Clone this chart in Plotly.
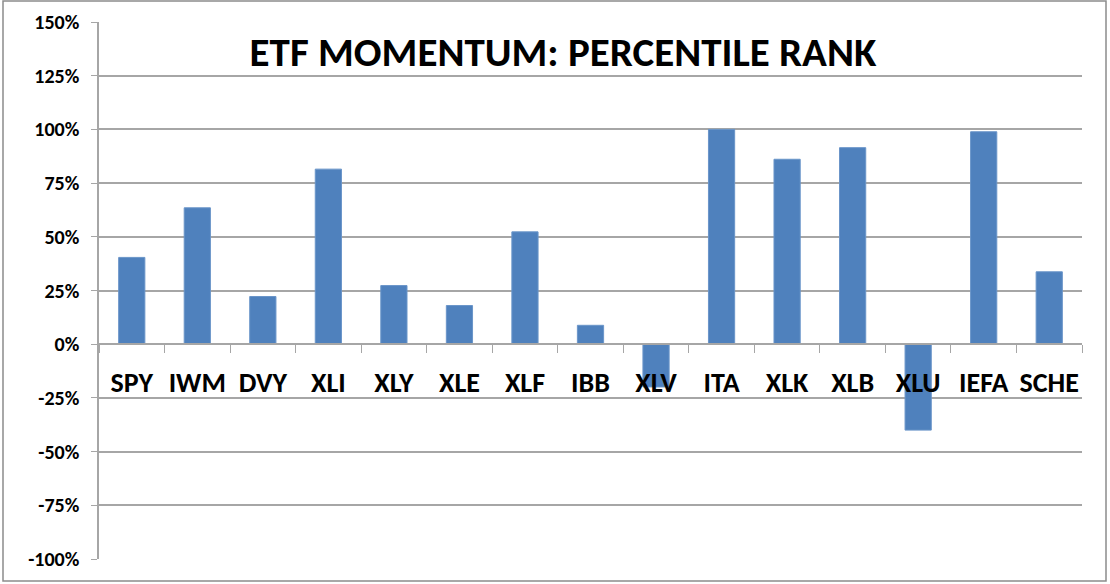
import plotly.graph_objects as go

tickers = ['SPY', 'IWM', 'DVY', 'XLI', 'XLY', 'XLE', 'XLF', 'IBB', 'XLV',
           'ITA', 'XLK', 'XLB', 'XLU', 'IEFA', 'SCHE']
pct_rank = [0.404, 0.635, 0.222, 0.815, 0.273, 0.180, 0.523, 0.088, -0.199,
            1.000, 0.861, 0.915, -0.400, 0.989, 0.337]
y_ticks = [-1.0, -0.75, -0.5, -0.25, 0.0, 0.25, 0.5, 0.75, 1.0, 1.25, 1.5]
y_labels = ['-100%', '-75%', '-50%', '-25%', '0%', '25%', '50%', '75%',
            '100%', '125%', '150%']

FONT = "Carlito, 'Liberation Sans Narrow', 'DejaVu Sans Condensed', sans-serif"
GRID = '#a6a6a6'

# plot area in pixels: left 99, right 1082, top 22, bottom 559; zero line at 344
zero_pos = (559 - 344) / 537

fig = go.Figure()
fig.add_trace(go.Bar(
    x=tickers, y=pct_rank,
    marker=dict(color='#4f81bd', line=dict(color='#6a95c9', width=1)),
    width=0.4,
))

fig.update_layout(
    width=1110, height=584,
    margin=dict(l=99, r=28, t=22, b=25, autoexpand=False),
    paper_bgcolor='white', plot_bgcolor='white',
    showlegend=False,
    title=dict(
        text='<b>ETF MOMENTUM: PERCENTILE RANK</b>',
        x=563 / 1110, xanchor='center', y=1 - 52 / 584, yanchor='middle',
        font=dict(family=FONT, size=41, color='black'),
    ),
    xaxis=dict(
        type='category',
        anchor='free', position=zero_pos,
        automargin=False, tickangle=0,
        showline=True, linecolor=GRID, linewidth=1.5,
        ticks='outside', tickson='boundaries', ticklen=8, tickcolor=GRID,
        showgrid=False,
        tickfont=dict(family=FONT, size=28, color='black', weight='bold'),
        ticklabelstandoff=14,
    ),
    yaxis=dict(
        range=[-1.0, 1.5], automargin=False,
        tickvals=y_ticks, ticktext=y_labels,
        showgrid=True, gridcolor=GRID, gridwidth=1.5,
        zeroline=True, zerolinecolor=GRID, zerolinewidth=1.5,
        showline=True, linecolor=GRID, linewidth=1.5,
        ticks='outside', ticklen=6, tickcolor=GRID,
        tickfont=dict(family=FONT, size=20, color='black', weight='bold'),
        ticklabelstandoff=8,
    ),
    shapes=[dict(
        type='rect', xref='paper', yref='paper',
        x0=(3 - 99) / 983, x1=(1106 - 99) / 983,
        y0=(559 - 581) / 537, y1=(559 - 1) / 537,
        line=dict(color='#8c8c8c', width=1.5), fillcolor='rgba(0,0,0,0)',
        layer='below',
    )],
)

fig.write_html('out.html', config={'displayModeBar': False},
               post_script="document.body.style.margin = '0';")
